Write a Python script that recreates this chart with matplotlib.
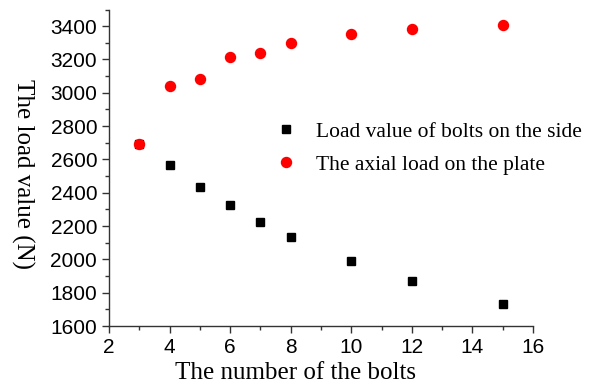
import matplotlib
matplotlib.use("Agg")
import matplotlib.pyplot as plt
from matplotlib.ticker import MultipleLocator

# bolt counts and loads
bolts = [3, 4, 5, 6, 7, 8, 10, 12, 15]
side_load = [2690, 2565, 2435, 2325, 2222, 2135, 1990, 1872, 1735]
plate_load = [2692, 3042, 3082, 3212, 3240, 3300, 3352, 3380, 3405]

serif = ['Liberation Serif', 'DejaVu Serif']
sans = ['Liberation Sans', 'DejaVu Sans']

fig = plt.figure(figsize=(5.91, 3.91), dpi=100)
ax = fig.add_axes([0.1844, 0.1662, 0.7175, 0.8095])

ax.plot(bolts, side_load, 's', color='black', markersize=6.3, linestyle='none',
        label='Load value of bolts on the side')
ax.plot(bolts, plate_load, 'o', color='red', markersize=7.2, linestyle='none',
        label='The axial load on the plate')

ax.set_xlim(2, 16)
ax.set_ylim(1600, 3500)
ax.xaxis.set_major_locator(MultipleLocator(2))
ax.xaxis.set_minor_locator(MultipleLocator(1))
ax.yaxis.set_minor_locator(MultipleLocator(100))
ax.set_yticks(range(1600, 3401, 200))

for s in ['top', 'right']:
    ax.spines[s].set_visible(False)
for s in ['left', 'bottom']:
    ax.spines[s].set_linewidth(1.0)
    ax.spines[s].set_color('#333333')

ax.tick_params(which='major', direction='out', length=5, width=1, color='#333333', pad=3.5)
ax.tick_params(which='minor', direction='out', length=3, width=1, color='#333333')
for lab in ax.get_xticklabels() + ax.get_yticklabels():
    lab.set_family(sans)
    lab.set_fontsize(15)

ax.set_xlabel('The number of the bolts', family=serif, fontsize=18, labelpad=8)
ax.xaxis.set_label_coords(0.44, -0.115)
ax.set_ylabel('The load value (N)', family=serif, fontsize=18, rotation=270,
              va='center')
ax.yaxis.set_label_coords(-0.203, 0.48)

leg = ax.legend(loc='upper left', bbox_to_anchor=(0.392, 0.645), frameon=False,
                prop={'family': serif, 'size': 15.5}, handlelength=1.0,
                handletextpad=0.9, labelspacing=0.6, borderpad=0, borderaxespad=0)

fig.savefig('out.png', dpi=100)
